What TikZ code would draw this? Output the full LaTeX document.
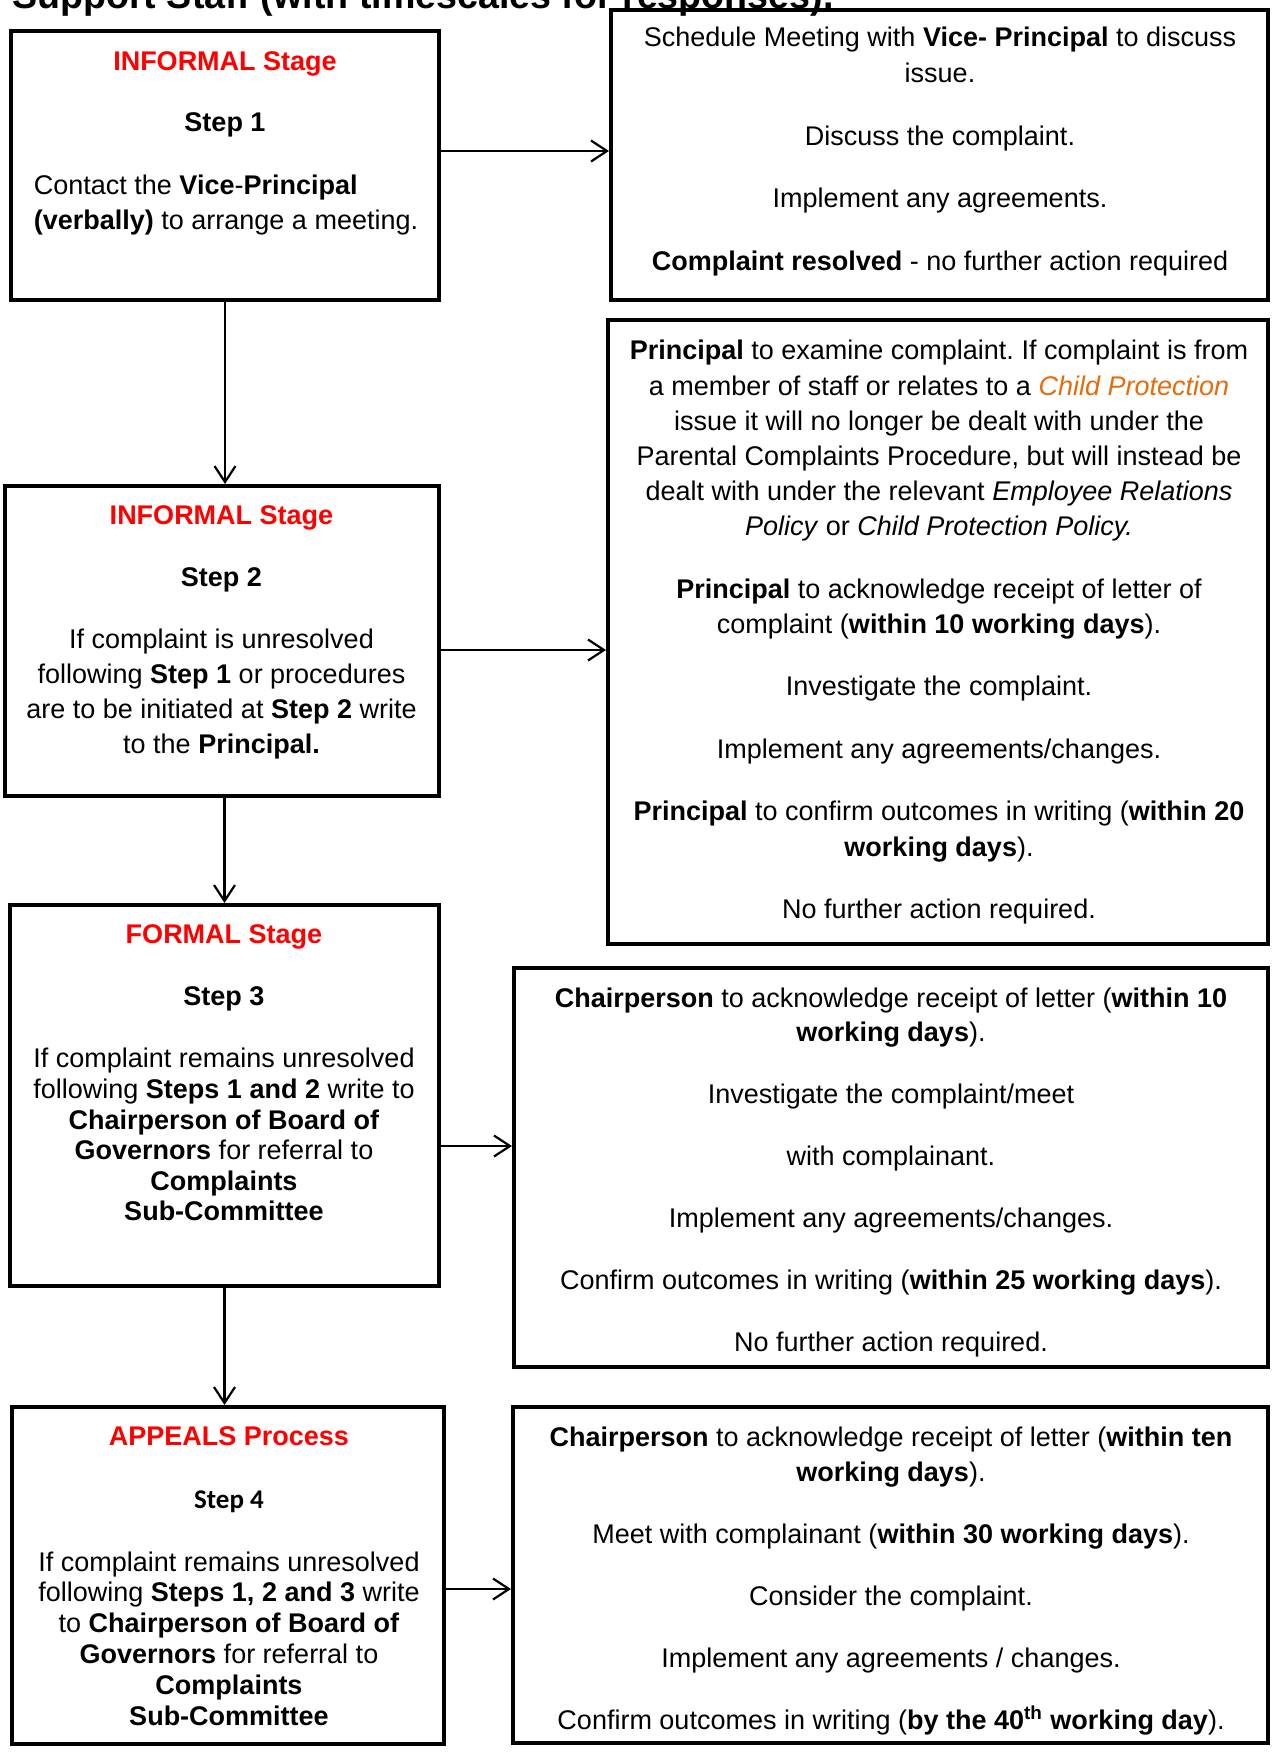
\documentclass[tikz,border=0pt]{standalone}
\usepackage{fontspec}
\setmainfont{Liberation Sans}
\newfontfamily\calib{Carlito}
\usetikzlibrary{fit,arrows.meta}
\definecolor{cporange}{RGB}{228,108,10}
\definecolor{hdred}{RGB}{255,0,0}
\frenchspacing
\begin{document}
\begin{tikzpicture}[x=0.5pt,y=-0.5pt,
  box/.style={draw, line width=2pt, inner sep=0pt},
  arr/.style={line width=1.1pt, -{Straight Barb[length=8pt,width=10.5pt,line width=1.1pt]}},
  txt/.style={inner sep=0pt, align=center, anchor=north},
]
\useasboundingbox (0,0) rectangle (1271,1753);
\begin{scope}
\clip (0,0) rectangle (1271,1753);
\node[anchor=base west, inner sep=0pt, font=\bfseries\fontsize{18.8}{22}\selectfont] (title) at (12,8) {Support Staff (with timescales for responses).};
\end{scope}

% boxes
\node[box, fit={(11,31) (439,300)}] (b1) {};
\node[box, fit={(611,10) (1268,300)}] (r1) {};
\node[box, fit={(5,486) (439,796)}] (b2) {};
\node[box, fit={(608,320) (1268,944)}] (r2) {};
\node[box, fit={(10,905) (439,1286)}] (b3) {};
\node[box, fit={(514,968) (1268,1367)}] (r3) {};
\node[box, fit={(12,1407) (444,1744)}] (b4) {};
\node[box, fit={(513,1407) (1268,1743)}] (r4) {};

% texts
\node[txt, font=\fontsize{13.5}{17.5}\selectfont] (t1h) at (225,51.5)
  {{\color{hdred}\bfseries INFORMAL Stage}\\[12.7pt]\textbf{Step 1}};
\node[inner sep=0pt, align=left, anchor=north west, font=\fontsize{13.5}{17.3}\selectfont] (t1b) at (33.5,174.5)
  {Contact the \textbf{Vice}-\textbf{Principal}\\\textbf{(verbally)} to arrange a meeting.};

\node[txt, font=\fontsize{13.5}{17.9}\selectfont] (tr1) at (940,26.9)
  {Schedule Meeting with \textbf{Vice- Principal} to discuss\\issue.\\[13.4pt]
   Discuss the complaint.\\[13.4pt]
   Implement any agreements.\\[13.4pt]
   \textbf{Complaint resolved} - no further action required};

\node[txt, font=\fontsize{13.5}{17.55}\selectfont] (tr2) at (939,340)
  {\textbf{Principal} to examine complaint. If complaint is from\\
   a member of staff or relates to a {\color{cporange}\itshape Child Protection}\\
   issue it will no longer be dealt with under the\\
   Parental Complaints Procedure, but will instead be\\
   dealt with under the relevant \textit{Employee Relations}\\
   \textit{Policy} or \textit{Child Protection Policy.}\\[13.75pt]
   \textbf{Principal} to acknowledge receipt of letter of\\
   complaint (\textbf{within 10 working days}).\\[13.75pt]
   Investigate the complaint.\\[13.75pt]
   Implement any agreements/changes.\\[13.75pt]
   \textbf{Principal} to confirm outcomes in writing (\textbf{within 20}\\
   \textbf{working days}).\\[13.75pt]
   No further action required.};

\node[txt, font=\fontsize{13.5}{17.5}\selectfont] (t2) at (221.5,505.4)
  {{\color{hdred}\bfseries INFORMAL Stage}\\[13.2pt]
   \textbf{Step 2}\\[13.8pt]
   If complaint is unresolved\\
   following \textbf{Step 1} or procedures\\
   are to be initiated at \textbf{Step 2} write\\
   to the \textbf{Principal.}};

\node[txt, font=\fontsize{13.5}{15.3}\selectfont] (t3) at (224,924.6)
  {{\color{hdred}\bfseries FORMAL Stage}\\[15.4pt]
   \textbf{Step 3}\\[16pt]
   If complaint remains unresolved\\
   following \textbf{Steps 1 and 2} write to\\
   \textbf{Chairperson of Board of}\\
   \textbf{Governors} for referral to\\
   \textbf{Complaints}\\
   \textbf{Sub-Committee}};

\node[txt, font=\fontsize{13.5}{17.3}\selectfont] (tr3) at (891,987.2)
  {\textbf{Chairperson} to acknowledge receipt of letter (\textbf{within 10}\\
   \textbf{working days}).\\[13.7pt]
   Investigate the complaint/meet\\[13.7pt]
   with complainant.\\[13.7pt]
   Implement any agreements/changes.\\[13.7pt]
   Confirm outcomes in writing (\textbf{within 25 working days}).\\[13.7pt]
   No further action required.};

\node[txt, font=\fontsize{13.5}{15.45}\selectfont] (t4) at (229,1426.5)
  {{\color{hdred}\bfseries APPEALS Process}\\[15.85pt]
   {\calib\bfseries Step 4}\\[15.9pt]
   If complaint remains unresolved\\
   following \textbf{Steps 1, 2 and 3} write\\
   to \textbf{Chairperson of Board of}\\
   \textbf{Governors} for referral to\\
   \textbf{Complaints}\\
   \textbf{Sub-Committee}};

\node[txt, font=\fontsize{13.5}{17.35}\selectfont] (tr4) at (891,1426.5)
  {\textbf{Chairperson} to acknowledge receipt of letter (\textbf{within ten}\\
   \textbf{working days}).\\[13.7pt]
   Meet with complainant (\textbf{within 30 working days}).\\[13.7pt]
   Consider the complaint.\\[13.7pt]
   Implement any agreements / changes.\\[13.7pt]
   Confirm outcomes in writing (\textbf{by the 40\textsuperscript{th} working day}).};

% connectors
\coordinate (ya) at (0,151);
\coordinate (yb) at (0,650);
\coordinate (yc) at (0,1146);
\coordinate (yd) at (0,1589);
\draw[arr] (b1.east |- ya) -- (r1.west |- ya);
\draw[arr] (b2.east |- yb) -- (r2.west |- yb);
\draw[arr] (b3.east |- yc) -- (r3.west |- yc);
\draw[arr] (b4.east |- yd) -- (r4.west |- yd);
\draw[arr] (b1.south) -- (b1.south |- b2.north);
\draw[arr] (b3.north |- b2.south) -- (b3.north);
\draw[arr] (b3.south) -- (b3.south |- b4.north);
\end{tikzpicture}
\end{document}
